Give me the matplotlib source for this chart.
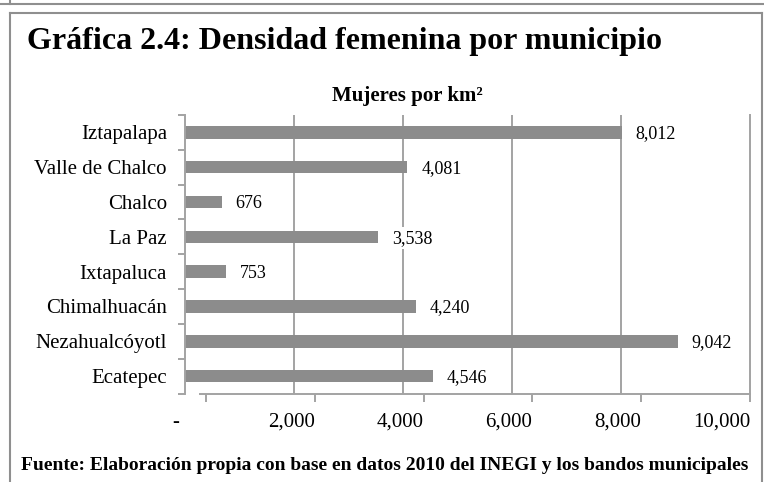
import matplotlib
matplotlib.use("Agg")
import matplotlib.pyplot as plt
from matplotlib.lines import Line2D
from matplotlib.transforms import ScaledTranslation

municipios = ["Iztapalapa", "Valle de Chalco", "Chalco", "La Paz",
              "Ixtapaluca", "Chimalhuacán", "Nezahualcóyotl", "Ecatepec"]
densidad = [8012, 4081, 676, 3538, 753, 4240, 9042, 4546]
ticks_x = [0, 2000, 4000, 6000, 8000, 10000]
ticks_lbl = ["-", "2,000", "4,000", "6,000", "8,000", "10,000"]

W, H = 764, 482
serif = "Liberation Serif"
gris_barra = "#8c8c8c"
gris_linea = "#a3a3a3"
gris_marco = "#8f8f8f"

fig = plt.figure(figsize=(W / 100, H / 100), dpi=100)

def fx(px):
    return px / W

def fy(py):
    return 1 - py / H

# marco exterior (parte baja del cuadro anterior + cuadro de la grafica)
for xs, ys in [([0, 763], [4, 4]), ([10, 10], [0, 4]),
               ([10, 762], [12.7, 12.7]), ([10, 10], [12.7, 482]),
               ([762, 762], [12.7, 482])]:
    fig.add_artist(Line2D([fx(x) for x in xs], [fy(y) for y in ys],
                          color=gris_marco, lw=1.5))

fig.text(fx(27), fy(42), "Gráfica 2.4: Densidad femenina por municipio",
         family=serif, weight="bold", fontsize=23, va="center", ha="left")
fig.text(fx(407), fy(96), "Mujeres por km²", family=serif,
         weight="bold", fontsize=15, va="center", ha="center")
fig.text(fx(385), fy(466),
         "Fuente: Elaboración propia con base en datos 2010 del INEGI y los bandos municipales",
         family=serif, weight="bold", fontsize=14, va="center", ha="center")

# area de barras
left, right, top, bottom = 185, 750, 115, 393.5
ax = fig.add_axes([fx(left), fy(bottom), fx(right - left), (bottom - top) / H])
pos = list(range(len(municipios)))
ax.barh(pos, densidad, height=0.36, color=gris_barra, zorder=2)
ax.set_xlim(0, (right - left) / 109 * 2000)
ax.set_ylim(len(municipios) - 0.5, -0.5)
ax.set_xticks([2000, 4000, 6000, 8000])
ax.xaxis.grid(True, color=gris_linea, lw=1.4, zorder=0)
ax.tick_params(axis="x", length=0, labelbottom=False)
ax.set_yticks(pos)
ax.set_yticklabels(municipios, family=serif, fontsize=15)
ax.set_yticks([p - 0.5 for p in pos] + [len(pos) - 0.5], minor=True)
ax.tick_params(axis="y", which="major", length=0, pad=13)
ax.tick_params(axis="y", which="minor", length=5, color=gris_linea, width=1.4)
for s in ["top", "bottom"]:
    ax.spines[s].set_visible(False)
for s in ["left", "right"]:
    ax.spines[s].set_color(gris_linea)
    ax.spines[s].set_linewidth(1.4)

for i, v in enumerate(densidad):
    ax.annotate(f"{v:,}", (v, i), xytext=(10, -1), textcoords="offset points",
                ha="left", va="center", family=serif, fontsize=13,
                bbox=dict(boxstyle="square,pad=0.15", fc="white", ec="none"),
                zorder=5, annotation_clip=False)

# eje de valores (desplazado, como en el original)
ax2 = fig.add_axes([fx(200), fy(bottom), fx(750 - 200), 0.001])
ax2.set_xlim(-110, 10000)
ax2.set_xticks(ticks_x)
ax2.set_xticklabels(ticks_lbl, family=serif, fontsize=15, ha="right")
ax2.tick_params(axis="x", direction="out", length=6, width=1.4,
                color=gris_linea, pad=8)
ax2.set_yticks([])
for s in ["top", "left", "right"]:
    ax2.spines[s].set_visible(False)
ax2.spines["bottom"].set_color(gris_linea)
ax2.spines["bottom"].set_linewidth(1.4)
ax2.patch.set_alpha(0)
lab0 = ax2.get_xticklabels()[0]
lab0.set_transform(lab0.get_transform() + ScaledTranslation(-0.27, 0, fig.dpi_scale_trans))

fig.savefig("out.png", dpi=100)
